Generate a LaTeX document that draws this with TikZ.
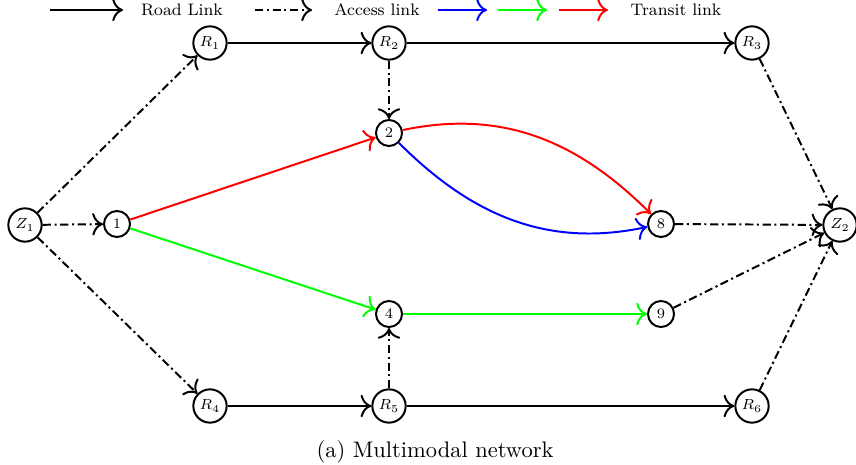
\documentclass[tikz,border=0pt]{standalone}
\usetikzlibrary{arrows.meta}
\begin{document}
\begin{tikzpicture}[x=0.48pt,y=-0.48pt,
  big/.style={circle,draw,line width=0.95pt,minimum size=16pt,inner sep=0pt,font=\scriptsize},
  small/.style={circle,draw,line width=0.95pt,minimum size=12.5pt,inner sep=0pt,font=\scriptsize},
  road/.style={line width=0.95pt,-{To[scale=1.4]}},
  access/.style={line width=0.95pt,dash pattern=on 4pt off 1.7pt on 1pt off 1.7pt,-{To[scale=1.4]}},
  transit/.style={line width=0.95pt,-{To[scale=1.4]}},
  lbl/.style={font=\footnotesize,inner sep=0pt}]
\useasboundingbox (0,0) rectangle (856,465);
% nodes
\node[big] (Z1) at (25,225) {$Z_1$};
\node[small] (n1) at (117,224) {1};
\node[big] (R1) at (210,43) {$R_1$};
\node[big] (R2) at (389,43) {$R_2$};
\node[big] (R3) at (752,43) {$R_3$};
\node[small] (n2) at (389,133) {2};
\node[small] (n8) at (661,224) {8};
\node[big] (Z2) at (840,225) {$Z_2$};
\node[small] (n4) at (389,314) {4};
\node[small] (n9) at (661,314) {9};
\node[big] (R4) at (210,406) {$R_4$};
\node[big] (R5) at (389,406) {$R_5$};
\node[big] (R6) at (752,406) {$R_6$};
% edges
\draw[access] (Z1) -- (R1);
\draw[access] (Z1) -- (n1);
\draw[access] (Z1) -- (R4);
\draw[road] (R1) -- (R2);
\draw[road] (R2) -- (R3);
\draw[road] (R4) -- (R5);
\draw[road] (R5) -- (R6);
\draw[access] (R2) -- (n2);
\draw[access] (R5) -- (n4);
\draw[access] (R3) -- (Z2);
\draw[access] (R6) -- (Z2);
\draw[access] (n8) -- (Z2);
\draw[access] (n9) -- (Z2);
\draw[transit,red] (n1) -- (n2);
\draw[transit,green] (n1) -- (n4);
\draw[transit,green] (n4) -- (n9);
\draw[transit,red] (n2) to[out=12,in=135] (n8);
\draw[transit,blue] (n2) to[out=-45,in=192] (n8);
% legend
\coordinate (a1) at (50,10); \coordinate (a2) at (123,10);
\coordinate (b1) at (255,10); \coordinate (b2) at (312,10);
\coordinate (c1) at (438,10); \coordinate (c2) at (487,10);
\coordinate (d1) at (498,10); \coordinate (d2) at (547,10);
\coordinate (e1) at (559,10); \coordinate (e2) at (608,10);
\draw[road] (a1) -- (a2);
\node[lbl] (lroad) at (182,10) {Road Link};
\draw[access] (b1) -- (b2);
\node[lbl] (lacc) at (377,10) {Access link};
\draw[transit,blue] (c1) -- (c2);
\draw[transit,green] (d1) -- (d2);
\draw[transit,red] (e1) -- (e2);
\node[lbl] (ltr) at (676,10) {Transit link};
\node[font=\fontsize{10.8}{13}\selectfont] (cap) at (435,452) {(a) Multimodal network};
\end{tikzpicture}
\end{document}
